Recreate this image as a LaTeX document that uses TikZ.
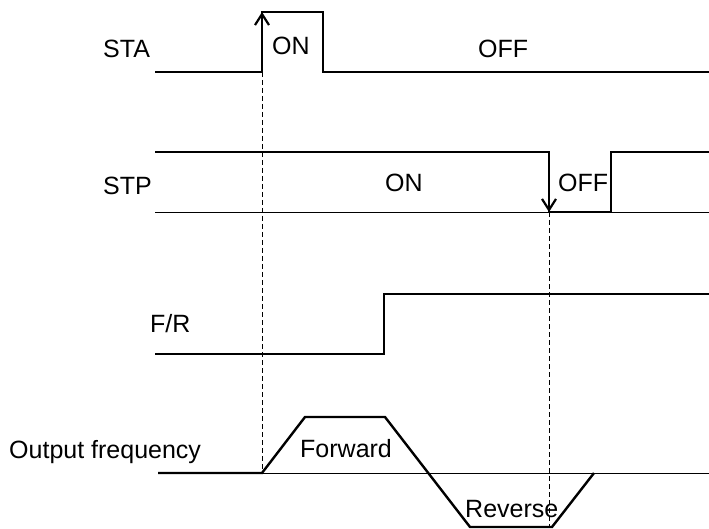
\documentclass[tikz,border=0pt]{standalone}
\usepackage{fontspec}
\setmainfont{Liberation Sans}
\usepackage{tikz}
\usetikzlibrary{arrows.meta}

\begin{document}
\begin{tikzpicture}[
        x=1pt, y=-1pt,
        wave/.style={line width=2.4pt, line join=miter},
        base/.style={line width=0.9pt},
        guide/.style={line width=0.9pt, dash pattern=on 5pt off 3pt},
        edge/.style={line width=2.2pt, -{Straight Barb[length=11pt, width=14pt]}},
        lbl/.style={anchor=base west, inner sep=0pt, font=\fontsize{25}{29}\selectfont}
    ]
        \useasboundingbox (0,0) rectangle (709,529);

        % signal names
        \node[lbl] (sta) at (103,58) {STA};
        \node[lbl] (stp) at (103,195) {STP};
        \node[lbl] (fr) at (150,332) {F/R};
        \node[lbl] (fout) at (9,458) {Output frequency};

        % state labels
        \node[lbl] (staon) at (272,55) {ON};
        \node[lbl] (staoff) at (478,58) {OFF};
        \node[lbl] (stpon) at (385,192) {ON};
        \node[lbl] (stpoff) at (558,192) {OFF};
        \node[lbl] (fwd) at (300,457) {Forward};
        \node[lbl] (rev) at (465,517) {Reverse};

        % edges the guides hang from
        \coordinate (starise) at (262,72);
        \coordinate (statop) at (262,12);
        \coordinate (stpfall) at (549,152);
        \coordinate (stpbot) at (549,212);
        \coordinate (outstart) at (262,473);
        \coordinate (outbot) at (549,527);

        % STA
        \draw[wave] (155,72) -- (starise) -- (statop) -- (323,12) -- (323,72) -- (709,72);
        \draw[edge] (262,50) -- (statop);

        % STP
        \draw[base] (155,212) -- (709,212);
        \draw[wave] (155,152) -- (stpfall) -- (stpbot) -- (611,212) -- (611,152) -- (709,152);
        \draw[edge] (549,180) -- (stpbot);

        % F/R
        \draw[wave] (155,354) -- (384,354) -- (384,294) -- (709,294);

        % output frequency
        \draw[base] (outstart) -- (709,473);
        \draw[wave] (158,473) -- (outstart) -- (305,417) -- (385,417) -- (470,527)
            -- (552,527) -- (594,473);

        \draw[guide] (starise) -- (outstart);
        \draw[guide] (stpbot) -- (outbot);
    \end{tikzpicture}
\end{document}
